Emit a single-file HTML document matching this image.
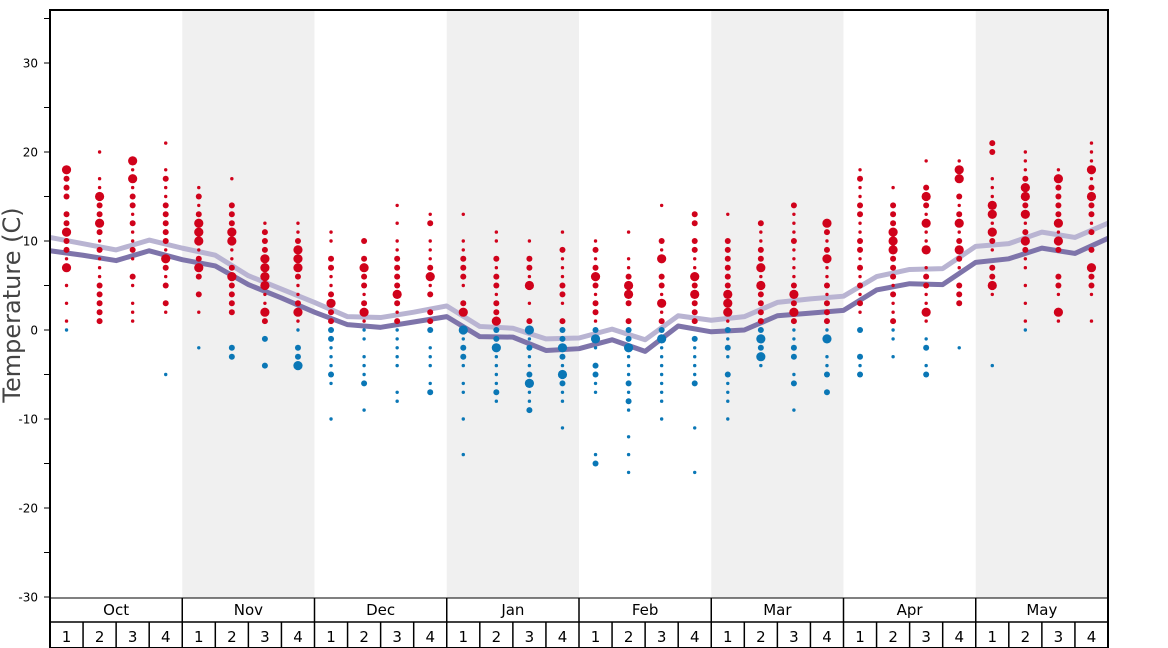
<!DOCTYPE html>
<html><head><meta charset="utf-8"><style>
body{margin:0;background:#fff;width:1168px;height:648px;overflow:hidden}
svg{display:block;font-family:"DejaVu Sans","Liberation Sans",sans-serif}
</style></head><body>
<svg id="c" width="1168" height="648"></svg>
<script>
const months=["Oct","Nov","Dec","Jan","Feb","Mar","Apr","May"];
const weeks=["1","2","3","4"];
const yTicks=[30,20,10,0,-10,-20,-30];
const lightLine=[10.4,9.7,9.0,10.1,9.2,8.4,6.1,4.6,3.1,1.5,1.4,2.0,2.7,0.4,0.2,-1.0,-0.9,0.1,-1.1,1.6,1.1,1.5,3.1,3.5,3.8,6.0,6.8,6.9,9.4,9.7,11.0,10.4,12.0];
const darkLine=[8.9,8.4,7.8,8.9,7.9,7.2,5.1,3.6,2.0,0.6,0.3,0.9,1.5,-0.75,-0.8,-2.3,-2.1,-1.1,-2.4,0.45,-0.2,0,1.6,1.9,2.2,4.5,5.2,5.1,7.6,8.0,9.2,8.6,10.3];
const dots=[
"18:3 17:2 16:2 15:2 13:2 12:2 11:3 10:2 9:2 8:1 7:3 5:1 3:1 1:1 0:1",
"20:1 17:1 16:1 15:3 14:2 13:2 12:3 11:2 10:1 9:2 8:1 7:1 6:1 5:2 4:2 3:2 2:2 1:2",
"19:3 18:1 17:3 16:1 15:2 14:2 13:1 12:2 11:1 10:1 9:2 8:1 6:2 5:1 3:1 2:1 1:1",
"21:1 18:1 17:2 16:1 15:1 14:2 13:2 12:2 11:2 10:2 9:1 8:3 7:2 6:1 5:2 3:2 2:1 -5:1",
"16:1 15:2 14:1 13:2 12:3 11:3 10:3 9:1 8:2 7:3 6:2 4:2 2:1 -2:1",
"17:1 14:2 13:2 12:2 11:3 10:3 9:1 8:1 7:2 6:3 5:2 4:2 3:2 2:2 -2:2 -3:2",
"12:1 11:2 10:2 9:2 8:3 7:3 6:3 5:3 4:1 3:1 2:3 1:2 -1:2 -4:2",
"12:1 11:1 10:2 9:3 8:3 7:3 6:2 5:1 4:1 3:2 2:3 1:1 0:1 -2:2 -3:2 -4:3",
"11:1 10:1 8:2 7:2 6:1 5:1 4:2 3:3 2:2 1:2 0:2 -1:2 -2:1 -3:1 -4:1 -5:2 -6:1 -10:1",
"10:2 8:2 7:3 6:2 5:2 4:1 3:2 2:3 1:1 0:1 -1:1 -3:1 -4:1 -5:1 -6:2 -9:1",
"14:1 12:1 10:1 9:1 8:2 7:2 6:2 5:2 4:3 3:2 2:1 1:2 0:1 -1:1 -2:1 -3:1 -4:1 -7:1 -8:1",
"13:1 12:2 10:1 9:1 8:1 7:2 6:3 5:1 4:2 2:2 1:2 0:2 -2:1 -3:1 -4:1 -6:1 -7:2",
"13:1 10:1 9:1 8:2 7:2 6:2 5:1 3:2 2:3 0:3 -1:1 -2:2 -3:2 -4:1 -6:1 -7:1 -10:1 -14:1",
"11:1 10:1 8:2 7:1 6:2 5:2 4:1 3:2 2:2 1:3 0:2 -1:2 -2:3 -3:1 -4:1 -5:1 -6:1 -7:2 -8:1",
"10:1 8:2 7:2 6:1 5:3 3:1 1:2 0:3 -1:1 -2:2 -3:1 -4:1 -5:2 -6:3 -7:1 -8:1 -9:2",
"11:1 9:2 8:1 7:1 6:1 5:2 4:2 3:1 1:2 0:2 -1:2 -2:3 -3:2 -4:1 -5:3 -6:2 -7:1 -8:1 -11:1",
"10:1 9:2 8:1 7:2 6:3 5:2 4:1 3:2 2:2 1:1 0:2 -1:3 -2:1 -4:2 -5:2 -6:1 -7:1 -14:1 -15:2",
"11:1 8:1 7:1 6:2 5:3 4:3 3:2 1:2 0:2 -1:2 -2:3 -3:1 -4:1 -5:1 -6:2 -7:1 -8:2 -9:1 -12:1 -14:1 -16:1",
"14:1 10:2 9:1 8:3 6:2 5:2 4:1 3:3 2:1 1:2 0:2 -1:3 -2:1 -3:1 -4:1 -5:1 -6:1 -7:1 -8:1 -10:1",
"13:2 12:2 10:2 9:2 8:1 7:1 6:3 5:2 4:3 3:2 2:2 1:2 -1:2 -2:1 -3:1 -4:1 -5:1 -6:2 -11:1 -16:1",
"13:1 10:2 9:2 8:2 7:2 6:2 5:2 4:3 3:3 2:3 1:1 0:2 -1:1 -2:2 -3:1 -5:2 -6:1 -7:1 -8:1 -10:1",
"12:2 11:1 10:1 9:2 8:2 7:3 6:1 5:3 4:2 3:2 2:2 1:2 0:2 -1:3 -2:2 -3:3 -4:1",
"14:2 13:1 12:1 11:1 10:2 9:1 8:1 7:1 6:1 5:2 4:3 3:2 2:3 1:2 0:1 -1:1 -2:2 -3:2 -5:1 -6:2 -9:1",
"12:3 11:2 10:1 9:2 8:3 7:1 6:1 5:2 4:1 3:2 2:2 1:2 0:1 -1:3 -3:1 -4:1 -5:2 -7:2",
"18:1 17:2 16:1 15:1 14:2 13:2 12:1 11:1 10:2 9:2 8:1 7:2 6:1 5:2 4:1 3:2 2:1 0:2 -3:2 -4:1 -5:2",
"16:1 14:2 13:2 12:2 11:3 10:3 9:3 8:2 7:2 6:2 5:1 4:2 3:1 2:1 1:2 0:1 -1:1 -3:1",
"19:1 16:2 15:3 14:2 13:1 12:3 11:1 10:1 9:3 7:1 6:2 5:2 4:1 3:1 2:3 1:1 -1:1 -2:2 -4:1 -5:2",
"19:1 18:3 17:3 15:2 14:1 13:2 12:3 11:1 10:2 9:3 8:2 7:1 5:2 4:2 3:2 -2:1",
"21:2 20:2 17:1 16:1 15:1 14:3 13:3 12:1 11:3 10:2 9:1 7:2 6:2 5:3 4:1 -4:1",
"20:1 19:1 18:1 17:2 16:3 15:3 14:2 13:3 12:1 11:2 10:3 9:2 8:1 7:1 5:1 3:1 1:1 0:1",
"18:1 17:3 16:2 15:2 14:2 13:2 12:3 11:1 10:3 9:2 6:2 5:2 4:1 2:3 1:1",
"21:1 20:1 19:1 18:3 17:1 16:2 15:3 14:2 13:2 12:1 11:2 9:2 7:3 6:2 5:2 4:1 1:1"
];
const NS="http://www.w3.org/2000/svg";
const svg=document.getElementById('c');
const X0=50,X1=1108,YT=10,YB=598;
const colW=(X1-X0)/32;
const y=t=>330-t*8.9;
const bx=i=>X0+i*colW;
const cx=i=>X0+(i+0.5)*colW;
function mk(tag,attrs,parent){const e=document.createElementNS(NS,tag);for(const k in attrs)e.setAttribute(k,attrs[k]);(parent||svg).appendChild(e);return e;}
months.forEach((m,i)=>{if(i%2===1){const r=mk('rect',{x:bx(i*4),y:YT,width:colW*4,height:YB-YT,fill:'#f0f0f0'});

}});
function line(vals,col,name){const p=mk('polyline',{points:vals.map((v,i)=>bx(i)+','+y(v)).join(' '),fill:'none',stroke:col,'stroke-width':5,'stroke-linejoin':'round'});

}
line(lightLine,'#b9b4d2','mean-temperature-line');
line(darkLine,'#7e74aa','min-temperature-line');
const R={1:1.7,2:3,3:4.6};
dots.forEach((s,i)=>{s.split(' ').forEach(p=>{const [t,z]=p.split(':').map(Number);
const c=mk('circle',{cx:cx(i),cy:y(t),r:R[z],fill:t>0?'#d0021b':'#0a77b6'});

});});
mk('rect',{x:X0,y:YT,width:X1-X0,height:648-YT,fill:'none',stroke:'#000','stroke-width':2});
mk('line',{x1:X0,y1:YB,x2:X1,y2:YB,stroke:'#000','stroke-width':1});
mk('line',{x1:X0,y1:622,x2:X1,y2:622,stroke:'#000','stroke-width':1.5});
for(let t=-30;t<=35;t+=5){mk('line',{x1:44,x2:X0,y1:y(t),y2:y(t),stroke:'#000','stroke-width':1});}
yTicks.forEach(t=>{const e=mk('text',{x:38,y:y(t)+4.5,'text-anchor':'end','font-size':12,fill:'#000'});e.textContent=t;

});
const tt=mk('text',{x:0,y:0,transform:'translate(20,305) rotate(-90)','text-anchor':'middle','font-size':24,fill:'#444'});tt.textContent='Temperature (C)';


months.forEach((m,i)=>{if(i>0)mk('line',{x1:bx(i*4),x2:bx(i*4),y1:YB,y2:648,stroke:'#000','stroke-width':1.5});
const e=mk('text',{x:bx(i*4)+colW*2,y:615,'text-anchor':'middle','font-size':15,fill:'#000'});e.textContent=m;


weeks.forEach((w,j)=>{const k=i*4+j;if(j>0)mk('line',{x1:bx(k),x2:bx(k),y1:622,y2:648,stroke:'#000','stroke-width':1.5});
const te=mk('text',{x:cx(k),y:642,'text-anchor':'middle','font-size':15,fill:'#000'});te.textContent=w;

});});
</script>
</body></html>
